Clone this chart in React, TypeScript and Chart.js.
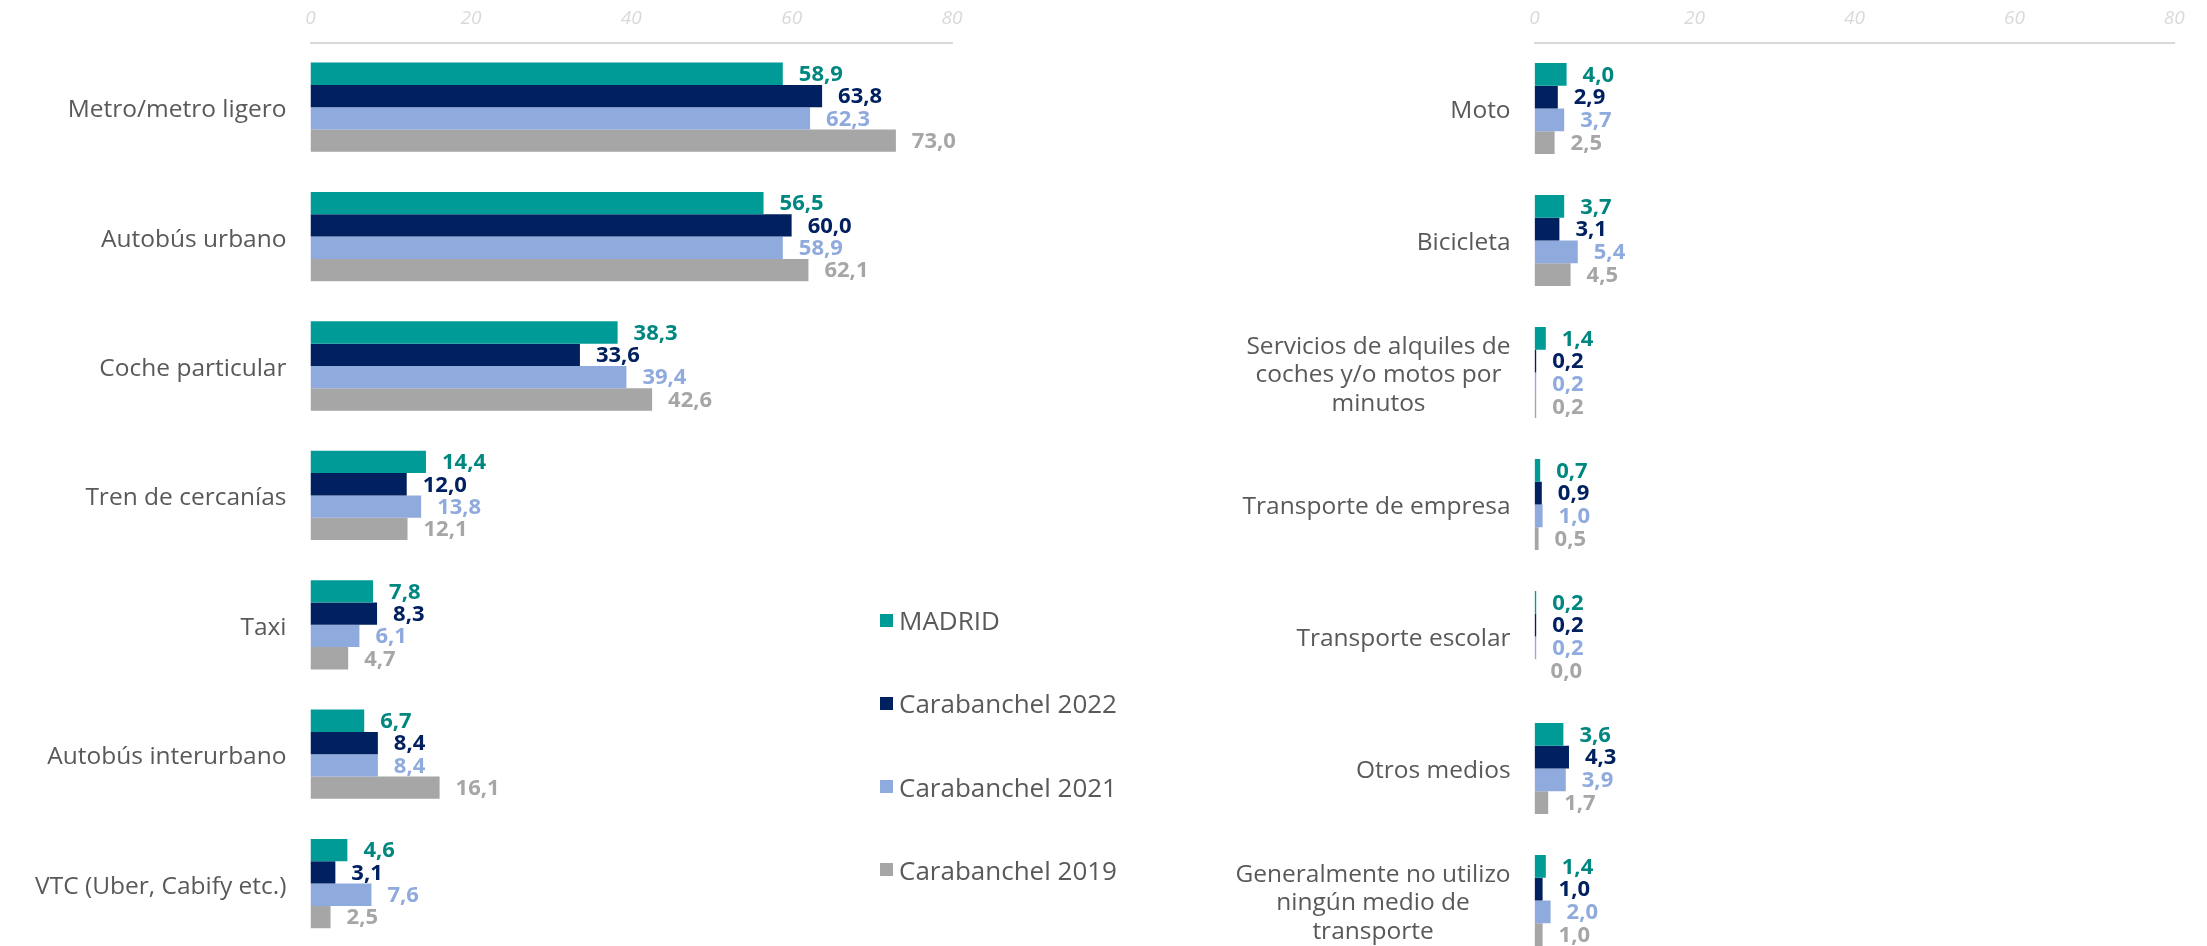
import React, { useEffect, useRef } from 'react';
import { Chart, registerables } from 'chart.js';

Chart.register(...registerables);

// ---------- DATA ----------
const seriesNames = ['MADRID', 'Carabanchel 2022', 'Carabanchel 2021', 'Carabanchel 2019'];

const leftCategories: string[][] = [
  ['Metro/metro ligero'],
  ['Autobús urbano'],
  ['Coche particular'],
  ['Tren de cercanías'],
  ['Taxi'],
  ['Autobús interurbano'],
  ['VTC (Uber, Cabify etc.)'],
];
const leftMadrid = [58.9, 56.5, 38.3, 14.4, 7.8, 6.7, 4.6];
const leftCar2022 = [63.8, 60.0, 33.6, 12.0, 8.3, 8.4, 3.1];
const leftCar2021 = [62.3, 58.9, 39.4, 13.8, 6.1, 8.4, 7.6];
const leftCar2019 = [73.0, 62.1, 42.6, 12.1, 4.7, 16.1, 2.5];

const rightCategories: string[][] = [
  ['Moto'],
  ['Bicicleta'],
  ['Servicios de alquiles de', 'coches y/o motos por', 'minutos'],
  ['Transporte de empresa'],
  ['Transporte escolar'],
  ['Otros medios'],
  ['Generalmente no utilizo', 'ningún medio de', 'transporte'],
];
const rightMadrid = [4.0, 3.7, 1.4, 0.7, 0.2, 3.6, 1.4];
const rightCar2022 = [2.9, 3.1, 0.2, 0.9, 0.2, 4.3, 1.0];
const rightCar2021 = [3.7, 5.4, 0.2, 1.0, 0.2, 3.9, 2.0];
const rightCar2019 = [2.5, 4.5, 0.2, 0.5, 0.0, 1.7, 1.0];

const axisMin = 0;
const axisMax = 80;
const axisStep = 20;

// ---------- STYLE ----------
const barColors = ['#009B96', '#002060', '#8FAADC', '#A6A6A6'];
const labelColors = ['#00877F', '#002060', '#8FAADC', '#A6A6A6'];
const FONT = '"Open Sans", "DejaVu Sans", sans-serif';
const textGray = '#595959';

const valueLabelPlugin = {
  id: 'valueLabels',
  afterDatasetsDraw(chart: any) {
    const ctx = chart.ctx;
    ctx.save();
    ctx.font = `700 22px ${FONT}`;
    ctx.textAlign = 'left';
    ctx.textBaseline = 'middle';
    chart.data.datasets.forEach((ds: any, i: number) => {
      const meta = chart.getDatasetMeta(i);
      ctx.fillStyle = labelColors[i];
      meta.data.forEach((el: any, j: number) => {
        const v = ds.data[j] as number;
        ctx.fillText(v.toFixed(1).replace('.', ','), el.x + 16, el.y + 1);
      });
    });
    ctx.restore();
  },
};

function makeCategoryPlugin(categories: string[][]) {
  return {
    id: 'categoryLabels',
    afterDraw(chart: any) {
      const ctx = chart.ctx;
      const yScale = chart.scales.y;
      const right = chart.chartArea.left - 24;
      const lh = 28.9;
      ctx.save();
      ctx.font = `400 24.5px ${FONT}`;
      ctx.fillStyle = textGray;
      ctx.textAlign = 'center';
      ctx.textBaseline = 'middle';
      categories.forEach((lines, i) => {
        const maxW = Math.max(...lines.map((l) => ctx.measureText(l).width));
        const cx = right - maxW / 2;
        const cy = yScale.getPixelForTick(i) + 3;
        const y0 = cy - ((lines.length - 1) * lh) / 2;
        lines.forEach((l, k) => ctx.fillText(l, cx, y0 + k * lh));
      });
      ctx.restore();
    },
  };
}

function makeConfig(categories: string[][], series: number[][], padding: any): any {
  return {
    type: 'bar',
    data: {
      labels: categories.map((c) => c.join(' ')),
      datasets: series.map((vals, i) => ({
        label: seriesNames[i],
        data: vals,
        backgroundColor: barColors[i],
        borderWidth: 0,
        categoryPercentage: 0.69,
        barPercentage: 1,
      })),
    },
    options: {
      indexAxis: 'y',
      animation: false,
      responsive: false,
      maintainAspectRatio: false,
      layout: { padding },
      plugins: { legend: { display: false }, tooltip: { enabled: false } },
      scales: {
        x: {
          position: 'top',
          min: axisMin,
          max: axisMax,
          ticks: {
            stepSize: axisStep,
            color: '#D9D9D9',
            font: { family: FONT, size: 19, style: 'italic' },
            padding: 12.4,
          },
          grid: { display: false, drawTicks: false },
          border: { display: true, color: '#D9D9D9', width: 2 },
          afterFit: (s: any) => {
            s.height = 42.5;
          },
        },
        y: { display: false },
      },
    },
    plugins: [valueLabelPlugin, makeCategoryPlugin(categories)],
  };
}

export default function App() {
  const leftRef = useRef<HTMLCanvasElement>(null);
  const rightRef = useRef<HTMLCanvasElement>(null);

  useEffect(() => {
    const left = new Chart(
      leftRef.current!,
      makeConfig(leftCategories, [leftMadrid, leftCar2022, leftCar2021, leftCar2019], {
        left: 310.5,
        right: 48,
        top: 0,
        bottom: 11.7,
      })
    );
    const right = new Chart(
      rightRef.current!,
      makeConfig(rightCategories, [rightMadrid, rightCar2022, rightCar2021, rightCar2019], {
        left: 434.6,
        right: 32.7,
        top: 0,
        bottom: 13.5,
      })
    );
    return () => {
      left.destroy();
      right.destroy();
    };
  }, []);

  return (
    <div
      style={{
        position: 'absolute',
        left: 0,
        top: 0,
        width: 2207,
        height: 946,
        overflow: 'hidden',
        background: '#ffffff',
      }}
    >
      <canvas ref={leftRef} width={1000} height={960} style={{ position: 'absolute', left: 0, top: 0 }} />
      <canvas ref={rightRef} width={1107} height={980} style={{ position: 'absolute', left: 1100, top: 0 }} />
      {seriesNames.map((name, i) => (
        <div
          key={name}
          style={{
            position: 'absolute',
            left: 880,
            top: 620 + i * 83.3 - 20,
            height: 40,
            display: 'flex',
            alignItems: 'center',
            fontFamily: FONT,
            fontSize: 26,
            color: textGray,
            whiteSpace: 'nowrap',
          }}
        >
          <span style={{ display: 'inline-block', width: 13, height: 13, background: barColors[i], marginRight: 6 }} />
          <span>{name}</span>
        </div>
      ))}
    </div>
  );
}
